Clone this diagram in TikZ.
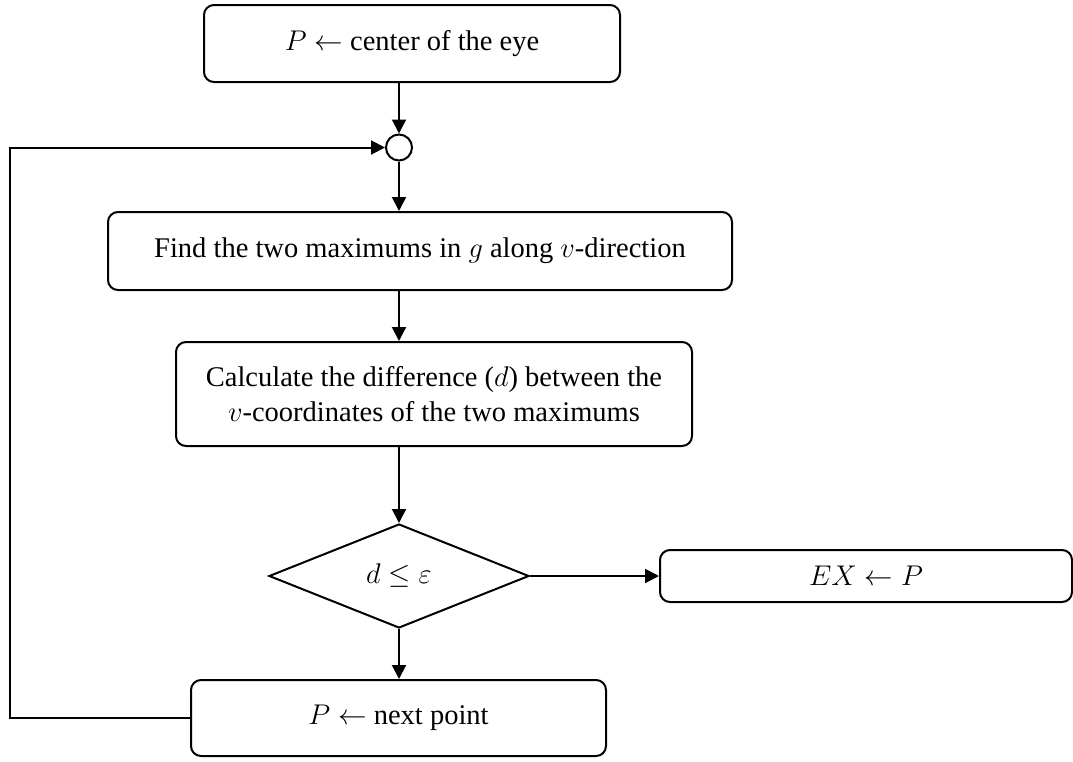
\RequirePackage{fix-cm}
\documentclass[tikz,border=0pt]{standalone}
\usepackage{fontspec}
\setmainfont{Liberation Serif}
\usetikzlibrary{arrows.meta,shapes.geometric}
\begin{document}
\begin{tikzpicture}[x=1pt,y=-1pt,
  box/.style={draw, rounded corners=10pt, line width=2pt, inner sep=0pt, align=center,
    font=\fontsize{28.5}{35}\selectfont},
  deci/.style={draw, diamond, line width=2pt, inner sep=0pt, aspect=2.5,
    font=\fontsize{28.5}{35}\selectfont},
  junc/.style={draw, circle, line width=2pt, inner sep=0pt, minimum size=26pt, fill=white},
  flow/.style={line width=2pt, -{Triangle[length=14pt,width=14pt]}},
  plain/.style={line width=2pt}]
\useasboundingbox (0,0) rectangle (1073,761);
\node[box, minimum width=416pt, minimum height=77pt] (top) at (412,43.5) {\raisebox{2pt}{$P \leftarrow$ center of the eye}};
\node[junc] (j) at (399,147.5) {};
\node[box, minimum width=624pt, minimum height=78pt] (find) at (420,251) {\raisebox{3pt}{Find the two maximums in $g$ along $v$-direction}};
\node[box, minimum width=516pt, minimum height=104pt] (calc) at (434,394) {Calculate the difference ($d$) between the\\ $v$-coordinates of the two maximums};
\node[deci, minimum width=260pt, minimum height=104pt] (dec) at (399,576) {$d \le \varepsilon$};
\node[box, minimum width=412pt, minimum height=52pt] (ex) at (866,576) {$EX \leftarrow P$};
\node[box, minimum width=415pt, minimum height=76pt] (next) at (398.5,718) {\raisebox{3pt}{$P \leftarrow$ next point}};
\coordinate (L) at (10,718);
\draw[flow] (j |- top.south) -- (j.north);
\draw[flow] (j.south) -- (j |- find.north);
\draw[flow] (j |- find.south) -- (j |- calc.north);
\draw[flow] (j |- calc.south) -- (dec.north);
\draw[flow] (dec.east) -- (ex.west);
\draw[flow] (dec.south) -- (dec |- next.north);
\draw[flow] (next.west) -- (L) |- (j.west);
\end{tikzpicture}
\end{document}
